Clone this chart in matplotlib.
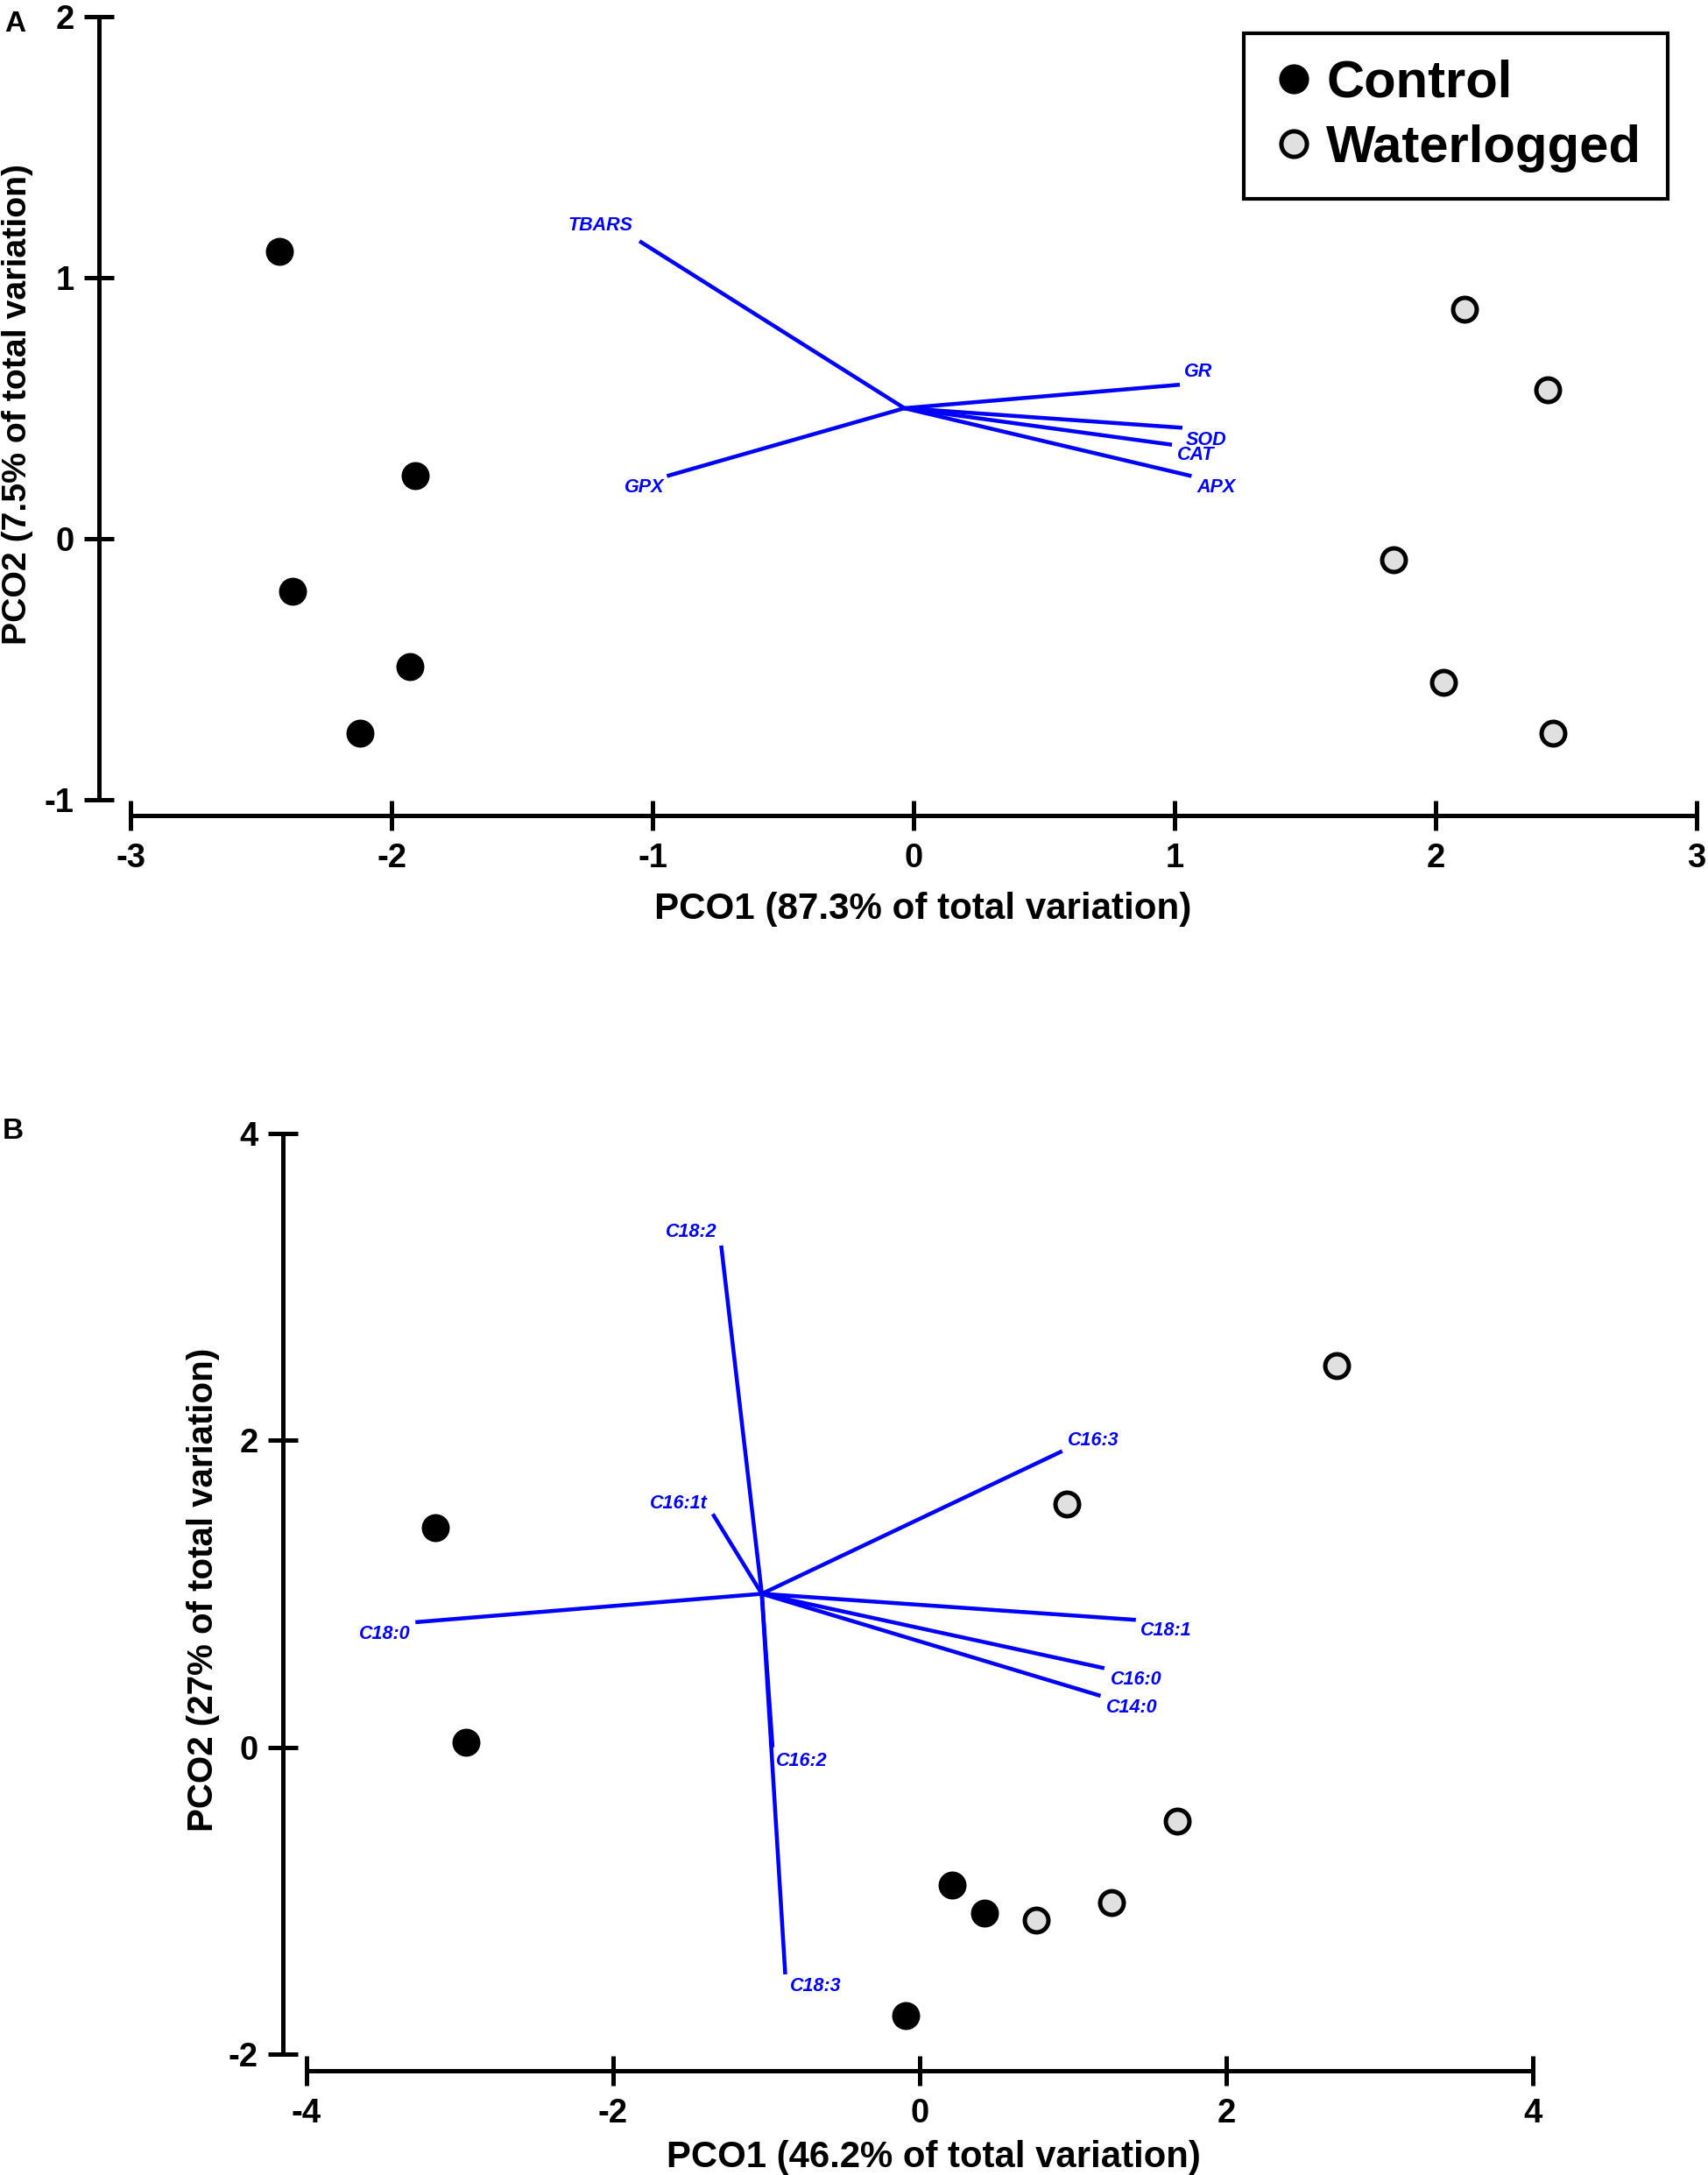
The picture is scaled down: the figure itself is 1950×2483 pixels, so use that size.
import matplotlib
matplotlib.use('Agg')
import matplotlib.pyplot as plt
from matplotlib.lines import Line2D

plt.rcParams['font.family'] = ['Liberation Sans', 'DejaVu Sans']
plt.rcParams['font.weight'] = 'bold'
plt.rcParams['axes.unicode_minus'] = False

# ---------------- Panel A data ----------------
a_ctrl_x = [-2.43, -1.91, -2.38, -1.93, -2.12]
a_ctrl_y = [1.10, 0.24, -0.20, -0.49, -0.745]
a_wl_x = [2.11, 2.43, 1.84, 2.03, 2.45]
a_wl_y = [0.88, 0.57, -0.08, -0.55, -0.745]
a_vec_names = ['TBARS', 'GR', 'SOD', 'CAT', 'APX', 'GPX']
a_vec_origin = (-0.035, 0.50)
a_vec_x = [-1.05, 1.02, 1.03, 0.99, 1.065, -0.945]
a_vec_y = [1.14, 0.59, 0.425, 0.36, 0.24, 0.24]
a_lab_x = [-1.20, 1.09, 1.12, 1.08, 1.16, -1.03]
a_lab_y = [1.20, 0.64, 0.376, 0.32, 0.195, 0.195]
a_xticks = [-3, -2, -1, 0, 1, 2, 3]
a_yticks = [-1, 0, 1, 2]
a_xlabel = 'PCO1 (87.3% of total variation)'
a_ylabel = 'PCO2 (7.5% of total variation)'

# ---------------- Panel B data ----------------
b_ctrl_x = [-3.16, -2.96, 0.21, 0.42, -0.09]
b_ctrl_y = [1.43, 0.03, -0.90, -1.08, -1.75]
b_wl_x = [2.72, 0.96, 1.68, 1.25, 0.76]
b_wl_y = [2.49, 1.585, -0.48, -1.01, -1.125]
b_vec_names = ['C18:2', 'C16:3', 'C16:1t', 'C18:0', 'C18:1', 'C16:0', 'C14:0', 'C16:2', 'C18:3']
b_vec_origin = (-1.03, 1.0)
b_vec_x = [-1.295, 0.93, -1.35, -3.29, 1.41, 1.205, 1.18, -0.96, -0.877]
b_vec_y = [3.27, 1.93, 1.52, 0.815, 0.83, 0.515, 0.335, 0.0, -1.48]
b_lab_x = [-1.49, 1.135, -1.57, -3.49, 1.605, 1.415, 1.385, -0.77, -0.68]
b_lab_y = [3.36, 2.00, 1.59, 0.74, 0.76, 0.44, 0.26, -0.09, -1.56]
b_xticks = [-4, -2, 0, 2, 4]
b_yticks = [-2, 0, 2, 4]
b_xlabel = 'PCO1 (46.2% of total variation)'
b_ylabel = 'PCO2 (27% of total variation)'

groups = ['Control', 'Waterlogged']

W, H = 1950, 2483
fig = plt.figure(figsize=(W / 100, H / 100), dpi=100)

BLUE = '#0000ff'
WL_FILL = '#e0e0e0'


def px_axes(x0, x1, y0, y1):
    return fig.add_axes([x0 / W, 1 - y1 / H, (x1 - x0) / W, (y1 - y0) / H])


def style(ax, xlim, ylim, xticks, yticks, left_off, bottom_off):
    ax.set_xlim(xlim)
    ax.set_ylim(ylim)
    for s in ['top', 'right']:
        ax.spines[s].set_visible(False)
    ax.spines['left'].set_position(('outward', left_off * 0.72))
    ax.spines['bottom'].set_position(('outward', bottom_off * 0.72))
    for s in ['left', 'bottom']:
        ax.spines[s].set_linewidth(3.6)
        ax.spines[s].set_capstyle('butt')
    ax.set_xticks(xticks)
    ax.set_yticks(yticks)
    ax.tick_params(direction='inout', length=25, width=3.6, labelsize=27.5, color='black')
    ax.tick_params(axis='x', pad=10)
    ax.tick_params(axis='y', pad=8)
    for lab in ax.get_xticklabels() + ax.get_yticklabels():
        lab.set_fontweight('bold')
    ax.patch.set_visible(False)


def draw_panel(ax, cx, cy, wx, wy, origin, vx, vy, names, lx, ly):
    for i, name in enumerate(names):
        ax.plot([origin[0], vx[i]], [origin[1], vy[i]], color=BLUE, lw=3.25,
                solid_capstyle='butt', zorder=2)
        ax.text(lx[i], ly[i], name, color=BLUE, fontsize=15.5, fontweight='bold',
                fontstyle='italic', ha='center', va='center', zorder=3)
    ax.plot(cx, cy, ls='none', marker='o', ms=19.4, mfc='black', mec='black',
            mew=3.6, clip_on=False, zorder=4, label=groups[0])
    ax.plot(wx, wy, ls='none', marker='o', ms=19.4, mfc=WL_FILL, mec='black',
            mew=3.6, clip_on=False, zorder=4, label=groups[1])


# ---- Panel A ----
axA = px_axes(149, 1937, 19, 913)
style(axA, (-3, 3), (-1, 2), a_xticks, a_yticks, 36, 18)
draw_panel(axA, a_ctrl_x, a_ctrl_y, a_wl_x, a_wl_y, a_vec_origin,
           a_vec_x, a_vec_y, a_vec_names, a_lab_x, a_lab_y)
axA.set_xlabel(a_xlabel, fontsize=30.3, fontweight='bold')
axA.xaxis.set_label_coords((1054 - 149) / 1788, (913 - 1038) / 894)
axA.xaxis.label.set_va('center')
axA.set_ylabel(a_ylabel, fontsize=28.3, fontweight='bold')
axA.yaxis.set_label_coords((20 - 149) / 1788, (913 - 462) / 894)
axA.yaxis.label.set_va('center')

handles = [Line2D([], [], ls='none', marker='o', ms=21, mfc='black', mec='black', mew=3.6),
           Line2D([], [], ls='none', marker='o', ms=21, mfc=WL_FILL, mec='black', mew=3.6)]
leg = axA.legend(handles, groups, loc='upper left',
                 bbox_to_anchor=(1420 / W, 1 - 38 / H), bbox_transform=fig.transFigure,
                 prop={'size': 43, 'weight': 'bold'}, frameon=True, fancybox=False,
                 borderpad=0.5, labelspacing=0.32, handlelength=0.92,
                 handletextpad=0.16, borderaxespad=0, framealpha=1)
leg.get_frame().set_edgecolor('black')
leg.get_frame().set_linewidth(3.0)

# ---- Panel B ----
axB = px_axes(350, 1750, 1294, 2345)
style(axB, (-4, 4), (-2, 4), b_xticks, b_yticks, 27, 19)
draw_panel(axB, b_ctrl_x, b_ctrl_y, b_wl_x, b_wl_y, b_vec_origin,
           b_vec_x, b_vec_y, b_vec_names, b_lab_x, b_lab_y)
axB.set_xlabel(b_xlabel, fontsize=30.2, fontweight='bold')
axB.xaxis.set_label_coords((1066 - 350) / 1400, (2345 - 2463) / 1051)
axB.xaxis.label.set_va('center')
axB.set_ylabel(b_ylabel, fontsize=29, fontweight='bold')
axB.yaxis.set_label_coords((232 - 350) / 1400, (2345 - 1815) / 1051)
axB.yaxis.label.set_va('center')

fig.text(5 / W, 1 - 36 / H, 'A', fontsize=24, fontweight='bold', va='baseline', ha='left')
fig.text(3 / W, 1 - 1300 / H, 'B', fontsize=24, fontweight='bold', va='baseline', ha='left')

fig.savefig('out.png', dpi=100)
